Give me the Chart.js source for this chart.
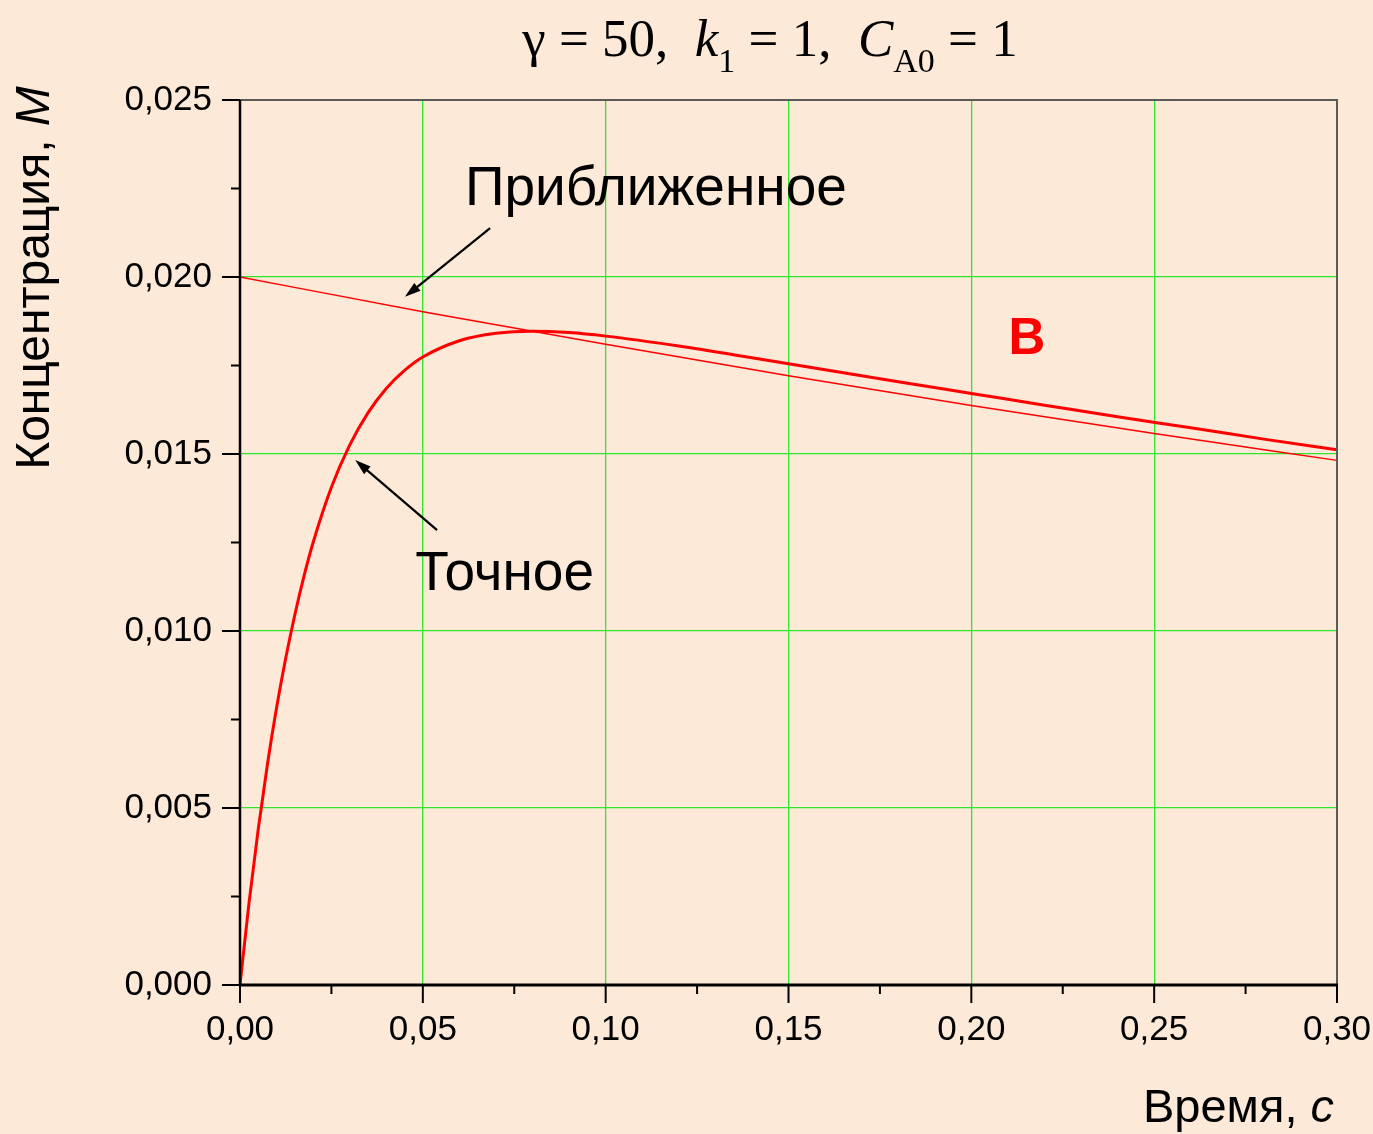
<!DOCTYPE html>
<html>
<head>
<meta charset="utf-8">
<script src="https://cdn.jsdelivr.net/npm/chart.js@4.4.1/dist/chart.umd.min.js"></script>
<style>
  html, body { margin: 0; padding: 0; background: #fde9d7; }
  #wrap { width: 1373px; height: 1134px; }
</style>
</head>
<body>
<div id="wrap"><canvas id="chart" width="1373" height="1134"></canvas></div>
<script>
// time, s
const timeExact = [0, 0.0025, 0.005, 0.0075, 0.01, 0.0125, 0.015, 0.0175, 0.02, 0.025, 0.03, 0.035, 0.04, 0.045,
    0.05, 0.06, 0.07, 0.08, 0.09, 0.10, 0.12, 0.14, 0.16, 0.18, 0.20, 0.22, 0.24, 0.26, 0.28, 0.30];
// concentration of B, exact curve ("Точное")
const concExact = [0, 0.00235, 0.00441, 0.00623, 0.00783, 0.00923, 0.01046, 0.01155, 0.01250, 0.01406, 0.01525,
    0.01616, 0.01685, 0.01736, 0.01774, 0.01820, 0.01841, 0.01847, 0.01843, 0.01833, 0.01805, 0.01772, 0.01738,
    0.01704, 0.01671, 0.01638, 0.01605, 0.01574, 0.01542, 0.01512];
// approximate curve ("Приближенное")
const timeApprox = [0, 0.05, 0.10, 0.15, 0.20, 0.25, 0.30];
const concApprox = [0.0200, 0.01902, 0.01810, 0.01721, 0.01637, 0.01558, 0.01482];

const xTicks = [0, 0.05, 0.10, 0.15, 0.20, 0.25, 0.30];
const yTicks = [0, 0.005, 0.010, 0.015, 0.020, 0.025];

const BG = '#fde9d7';
const GRID = '#2ee62e';
const SANS = '"Liberation Sans", Arial, sans-serif';
const fmt = (v, d) => v.toFixed(d).replace('.', ',');

const decor = {
    id: 'decor',
    beforeDraw(chart) {
        const ctx = chart.ctx;
        ctx.save();
        ctx.fillStyle = BG;
        ctx.fillRect(0, 0, chart.width, chart.height);
        ctx.restore();
    },
    afterDraw(chart) {
        const ctx = chart.ctx;
        const xs = chart.scales.x, ys = chart.scales.y;
        const a = chart.chartArea;
        ctx.save();

        // frame: top / right grey
        ctx.strokeStyle = '#5a5a5a';
        ctx.lineWidth = 2;
        ctx.beginPath();
        ctx.moveTo(a.left, a.top); ctx.lineTo(a.right, a.top); ctx.lineTo(a.right, a.bottom);
        ctx.stroke();

        // minor + major ticks
        ctx.strokeStyle = '#000';
        ctx.lineWidth = 2;
        for (let i = 0; i <= 12; i++) {
            const px = xs.getPixelForValue(i * 0.025);
            const len = i % 2 === 0 ? 18 : 9;
            ctx.beginPath(); ctx.moveTo(px, a.bottom); ctx.lineTo(px, a.bottom + len); ctx.stroke();
        }
        for (let i = 0; i <= 10; i++) {
            const py = ys.getPixelForValue(i * 0.0025);
            const len = i % 2 === 0 ? 18 : 9;
            ctx.beginPath(); ctx.moveTo(a.left - len, py); ctx.lineTo(a.left, py); ctx.stroke();
        }

        // axes
        ctx.lineWidth = 2.5;
        ctx.beginPath(); ctx.moveTo(a.left, a.top); ctx.lineTo(a.left, a.bottom + 1); ctx.stroke();
        ctx.lineWidth = 3;
        ctx.beginPath(); ctx.moveTo(a.left - 1, a.bottom); ctx.lineTo(a.right + 1, a.bottom); ctx.stroke();

        // y axis title
        ctx.save();
        ctx.translate(49, 278);
        ctx.rotate(-Math.PI / 2);
        ctx.fillStyle = '#000';
        ctx.textBaseline = 'alphabetic';
        const t1 = 'Концентрация, ';
        ctx.font = 'italic 48px ' + SANS;
        const w2 = ctx.measureText('М').width;
        ctx.font = '48px ' + SANS;
        const w1 = ctx.measureText(t1).width;
        let sx = -(w1 + w2) / 2;
        ctx.fillText(t1, sx, 0);
        ctx.font = 'italic 48px ' + SANS;
        ctx.fillText('М', sx + w1, 0);
        ctx.restore();

        // x axis title (right aligned)
        ctx.fillStyle = '#000';
        ctx.textBaseline = 'alphabetic';
        ctx.font = 'italic 47px ' + SANS;
        const wc = ctx.measureText('с').width;
        ctx.font = '47px ' + SANS;
        const wt = ctx.measureText('Время, ').width;
        const xr = 1334;
        ctx.fillText('Время, ', xr - wc - wt, 1122);
        ctx.font = 'italic 47px ' + SANS;
        ctx.fillText('с', xr - wc, 1122);

        // title: γ = 50,  k1 = 1,  CA0 = 1
        const serif = '"Liberation Serif", "Times New Roman", serif';
        const parts = [
            ['γ = 50,  ', 'normal', 0],
            ['k', 'italic', 0],
            ['1', 'normal', 1],
            [' = 1,  ', 'normal', 0],
            ['C', 'italic', 0],
            ['A0', 'normal', 1],
            [' = 1', 'normal', 0]
        ];
        const big = 53, small = 34;
        let total = 0;
        parts.forEach(p => {
            ctx.font = p[1] + ' ' + (p[2] ? small : big) + 'px ' + serif;
            total += ctx.measureText(p[0]).width;
        });
        let tx = 770 - total / 2;
        parts.forEach(p => {
            ctx.font = p[1] + ' ' + (p[2] ? small : big) + 'px ' + serif;
            ctx.fillText(p[0], tx, p[2] ? 72 : 56);
            tx += ctx.measureText(p[0]).width;
        });

        // annotations
        ctx.font = '55px ' + SANS;
        ctx.textBaseline = 'middle';
        ctx.fillText('Приближенное', xs.getPixelForValue(0.0615), ys.getPixelForValue(0.02245));
        ctx.fillText('Точное', xs.getPixelForValue(0.0479), ys.getPixelForValue(0.01158));
        ctx.fillStyle = '#ff0000';
        ctx.font = 'bold 51px ' + SANS;
        ctx.textAlign = 'center';
        ctx.fillText('B', xs.getPixelForValue(0.2152), ys.getPixelForValue(0.01822));

        const arrow = (x0, y0, x1, y1) => {
            const p0x = xs.getPixelForValue(x0), p0y = ys.getPixelForValue(y0);
            const p1x = xs.getPixelForValue(x1), p1y = ys.getPixelForValue(y1);
            const ang = Math.atan2(p1y - p0y, p1x - p0x);
            const hl = 16, hw = 5;
            ctx.strokeStyle = '#000';
            ctx.fillStyle = '#000';
            ctx.lineWidth = 2.2;
            ctx.beginPath();
            ctx.moveTo(p0x, p0y);
            ctx.lineTo(p1x - Math.cos(ang) * hl * 0.8, p1y - Math.sin(ang) * hl * 0.8);
            ctx.stroke();
            ctx.beginPath();
            ctx.moveTo(p1x, p1y);
            ctx.lineTo(p1x - Math.cos(ang) * hl + Math.sin(ang) * hw, p1y - Math.sin(ang) * hl - Math.cos(ang) * hw);
            ctx.lineTo(p1x - Math.cos(ang) * hl - Math.sin(ang) * hw, p1y - Math.sin(ang) * hl + Math.cos(ang) * hw);
            ctx.closePath();
            ctx.fill();
        };
        arrow(0.0684, 0.02138, 0.0451, 0.01944);
        arrow(0.0539, 0.01285, 0.0315, 0.01483);

        ctx.restore();
    }
};

new Chart(document.getElementById('chart').getContext('2d'), {
    type: 'line',
    data: {
        datasets: [
            {
                label: 'Приближенное',
                data: timeApprox.map((t, i) => ({x: t, y: concApprox[i]})),
                borderColor: '#ff0000', borderWidth: 1.4, pointRadius: 0, cubicInterpolationMode: 'monotone'
            },
            {
                label: 'Точное',
                data: timeExact.map((t, i) => ({x: t, y: concExact[i]})),
                borderColor: '#ff0000', borderWidth: 3, pointRadius: 0, cubicInterpolationMode: 'monotone'
            }
        ]
    },
    options: {
        responsive: false, animation: false,
        layout: {padding: {left: 0, right: 36, top: 100, bottom: 0}},
        plugins: {legend: {display: false}, tooltip: {enabled: false}},
        scales: {
            x: {
                type: 'linear', min: 0, max: 0.30,
                afterFit: s => { s.height = 149; s.paddingLeft = 0; s.paddingRight = 0; },
                afterBuildTicks: s => { s.ticks = xTicks.map(v => ({value: v})); },
                border: {display: false},
                grid: {drawTicks: false, lineWidth: 1.3,
                    color: c => (c.tick && (c.tick.value <= 0 || c.tick.value >= 0.3)) ? 'rgba(0,0,0,0)' : GRID},
                ticks: {padding: 24, color: '#000', font: {family: SANS, size: 35},
                    callback: v => fmt(v, 2), maxRotation: 0}
            },
            y: {
                type: 'linear', min: 0, max: 0.025,
                afterFit: s => { s.width = 240; s.paddingTop = 0; s.paddingBottom = 0; },
                afterBuildTicks: s => { s.ticks = yTicks.map(v => ({value: v})); },
                border: {display: false},
                grid: {drawTicks: false, lineWidth: 1.3,
                    color: c => (c.tick && (c.tick.value <= 0 || c.tick.value >= 0.025)) ? 'rgba(0,0,0,0)' : GRID},
                ticks: {padding: 28, color: '#000', font: {family: SANS, size: 35},
                    callback: v => fmt(v, 3)}
            }
        }
    },
    plugins: [decor]
});
</script>
</body>
</html>
